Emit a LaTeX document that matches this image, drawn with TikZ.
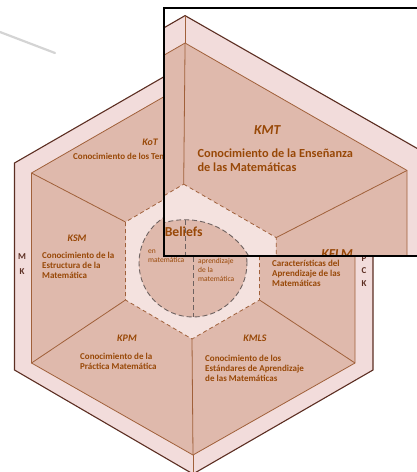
\documentclass[tikz,border=0pt]{standalone}
\usepackage{fontspec}
\setmainfont{Carlito}
\usepackage{tikz}
\usetikzlibrary{positioning}
\definecolor{ringpink}{HTML}{F2DCDB}
\definecolor{sectorpink}{HTML}{DFB9AC}
\definecolor{corepink}{HTML}{F4E2DF}
\definecolor{linebrown}{HTML}{A0603A}
\definecolor{edgebrown}{HTML}{5C2E22}
\definecolor{textbrown}{HTML}{984807}
\definecolor{dashgray}{HTML}{6E6260}
\tikzset{
    ring/.style={
           fill=ringpink,
           draw=edgebrown, line width=1.1pt,
           line join=miter,
           },
    sector/.style={
           fill=sectorpink,
           draw=linebrown, line width=0.8pt,
           },
    divider/.style={draw=linebrown, line width=0.8pt},
    core/.style={
           fill=corepink,
           draw=linebrown, line width=0.8pt,
           dash pattern=on 4pt off 3pt,
           },
    belief/.style={
           fill=sectorpink,
           draw=dashgray, line width=0.9pt,
           dash pattern=on 5pt off 3pt,
           },
    dimname/.style={
           text=textbrown,
           font=\fontsize{10}{11}\selectfont\bfseries\itshape,
           inner sep=0pt,
           },
    dimtext/.style={
           text=textbrown,
           font=\fontsize{9}{10}\selectfont\bfseries,
           align=left,
           inner sep=0pt,
           anchor=north west,
           },
    coretext/.style={
           text=textbrown,
           font=\fontsize{7.5}{9}\selectfont,
           align=left,
           inner sep=0pt,
           anchor=north west,
           },
    ringtext/.style={
           text=edgebrown,
           font=\fontsize{9}{10}\selectfont\bfseries,
           inner sep=0pt,
           },
    zoombox/.style={draw=black, line width=1.2pt},
    smudge/.style={draw=black!17, line width=2.2pt, line cap=round},
}

% the whole model, in pixel coordinates of the main view
\newcommand{\mtskhex}{%
    % corners: outer (O), inner (I), core (C)
    \coordinate (O1) at (193,60);    \coordinate (I1) at (193,80);    \coordinate (C1) at (192,183);
    \coordinate (O2) at (373,163);   \coordinate (I2) at (355,173);   \coordinate (C2) at (259.5,222);
    \coordinate (O3) at (373,370);   \coordinate (I3) at (355,363);   \coordinate (C3) at (259.5,300);
    \coordinate (O4) at (193,474);   \coordinate (I4) at (193,455);   \coordinate (C4) at (192,339);
    \coordinate (O5) at (14.5,370);  \coordinate (I5) at (31.5,363);  \coordinate (C5) at (125.5,300);
    \coordinate (O6) at (14.5,163);  \coordinate (I6) at (31.5,173);  \coordinate (C6) at (125.5,222);
    % MK / PCK ring
    \path[ring] (O1) -- (O2) -- (O3) -- (O4) -- (O5) -- (O6) -- cycle;
    \draw[divider] (O1) -- (I1) (O4) -- (I4);
    % six sub-domains
    \path[sector] (I1) -- (I2) -- (I3) -- (I4) -- (I5) -- (I6) -- cycle;
    \foreach \k in {1,...,6}{\draw[divider] (I\k) -- (C\k);}
    % beliefs core
    \path[core] (C1) -- (C2) -- (C3) -- (C4) -- (C5) -- (C6) -- cycle;
    \path[belief] (193,263) circle (54pt);
    \draw[belief, fill=none] (193,209) -- (193,317);
    % names of the sub-domains
    \node[dimname] (KoT)  at (150,142)   {KoT};
    \node[dimname] (KMT)  at (253,143.5) {KMT};
    \node[dimname] (KSM)  at (77,238)    {KSM};
    \node[dimname] (KFLM) at (304,234)   {KFLM};
    \node[dimname] (KPM)  at (127,338)   {KPM};
    \node[dimname] (KMLS) at (255,338)   {KMLS};
    % descriptions
    \node[dimtext] (KoT_TXT)  at (73,153)  {Conocimiento de los Temas};
    \node[dimtext] (KMT_TXT)  at (202,157) {Conocimiento de la Enseñanza\\de las Matemáticas};
    \node[dimtext] (KSM_TXT)  at (42,252)  {Conocimiento de la\\Estructura de la\\Matemática};
    \node[dimtext] (KFLM_TXT) at (272,250) {Conocimiento de las\\Características del\\Aprendizaje de las\\Matemáticas};
    \node[dimtext] (KPM_TXT)  at (80,353)  {Conocimiento de la\\Práctica Matemática};
    \node[dimtext] (KMLS_TXT) at (205,355) {Conocimiento de los\\Estándares de Aprendizaje\\de las Matemáticas};
    % core
    \node[text=textbrown, font=\fontsize{10}{11}\selectfont\bfseries, inner sep=0pt] (BEL) at (192,218) {Beliefs};
    \node[coretext] (BEL_L) at (148,250) {en\\matemática};
    \node[coretext] (BEL_R) at (198,258) {aprendizaje\\de la\\matemática};
    % ring letters
    \node[ringtext] (MK_M)  at (22,257)  {M};
    \node[ringtext] (MK_K)  at (22,272)  {K};
    \node[ringtext] (PCK_P) at (364,259) {P};
    \node[ringtext] (PCK_C) at (364,271) {C};
    \node[ringtext] (PCK_K) at (364,284) {K};
}

\begin{document}
\begin{tikzpicture}[x=1pt,y=-1pt]
    \useasboundingbox (0,0) rectangle (417,472);
    \clip (0,0) rectangle (417,472);

    % stray mark of the slide
    \draw[smudge] (0,32) -- (55,53);

    % MAIN VIEW
    \mtskhex

    % ZOOMED VIEW of the top part
    \begin{scope}
        \clip (164,8) rectangle (420,256);
        \fill[white] (164,8) rectangle (420,256);
        \begin{scope}[shift={(-79.4,-66.6)}, scale=1.37, transform shape]
            \mtskhex
        \end{scope}
    \end{scope}
    \draw[zoombox] (164,8) rectangle (420,256);
\end{tikzpicture}
\end{document}
